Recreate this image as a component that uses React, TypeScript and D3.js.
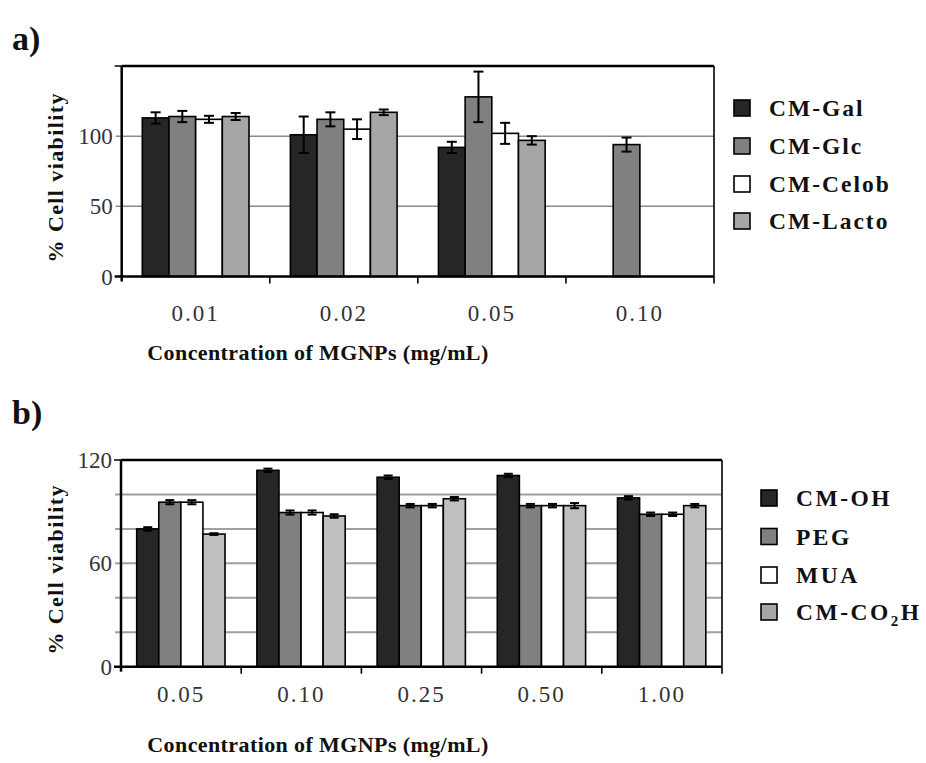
import React from "react";
import * as d3 from "d3";

const catsA = ["0.01", "0.02", "0.05", "0.10"];
const seriesA = ["CM-Gal", "CM-Glc", "CM-Celob", "CM-Lacto"];
const galA = [113, 101, 92, null];
const glcA = [114, 112, 128, 94];
const celobA = [112, 105, 102, null];
const lactoA = [114, 117, 97, null];
const galErrA = [4, 13, 4, null];
const glcErrA = [4, 5, 18, 5];
const celobErrA = [2.5, 7, 7.5, null];
const lactoErrA = [2.5, 2, 3, null];
const yTicksA = [0, 50, 100];
const yGridA = [50, 100];

const catsB = ["0.05", "0.10", "0.25", "0.50", "1.00"];
const seriesB = ["CM-OH", "PEG", "MUA", "CM-CO2H"];
const ohB = [80, 114, 110, 111, 98];
const pegB = [95.5, 89.5, 93.5, 93.5, 88.5];
const muaB = [95.5, 89.5, 93.5, 93.5, 88.5];
const co2hB = [77, 87.5, 97.5, 93.5, 93.5];
const ohErrB = [1, 1, 1, 1, 1];
const pegErrB = [1.2, 1.2, 1, 1, 1];
const muaErrB = [1.2, 1.2, 1, 1, 1];
const co2hErrB = [0.5, 1, 1, 1.5, 1];
const yTicksB = [0, 60, 120];
const yGridB = [20, 40, 60, 80, 100];

const colorsA = ["#262626", "#808080", "#ffffff", "#a6a6a6"];
const colorsB = ["#262626", "#808080", "#ffffff", "#c0c0c0"];
const legendColorsB = ["#262626", "#808080", "#ffffff", "#a6a6a6"];

const SERIF = "'Liberation Serif', 'DejaVu Serif', serif";

type PanelProps = {
  cats: string[];
  values: (number | null)[][];
  errors: (number | null)[][];
  colors: string[];
  legendColors: string[];
  series: string[];
  yMax: number;
  yTicks: number[];
  yGrid: number[];
  left: number;
  right: number;
  top: number;
  bottom: number;
  innerStart: number;
  innerEnd: number;
  capW: number;
  label: string;
  labelY: number;
  xLabelY: number;
  xTitleY: number;
  legendX: number;
  legendYs: number[];
  legendSpacing: number;
  gridColor: string;
  gridW: number;
};

function Panel(p: PanelProps) {
  const x0 = d3.scaleBand<string>().domain(p.cats).range([p.left, p.right]).padding(0);
  const x1 = d3
    .scaleBand<string>()
    .domain(p.series)
    .range([p.innerStart, p.innerEnd])
    .padding(0);
  const y = d3.scaleLinear().domain([0, p.yMax]).range([p.bottom, p.top]);
  const bw = x1.bandwidth();
  const boundaries = p.cats.map((c) => x0(c)!).concat([p.right]);

  return (
    <g>
      <text x={12} y={p.labelY} fontFamily={SERIF} fontWeight="bold" fontSize={34} fill="#111">
        {p.label}
      </text>
      {/* grid */}
      {p.yGrid.map((v) => (
        <line
          key={"g" + v}
          x1={p.left - 6}
          x2={p.right}
          y1={y(v)}
          y2={y(v)}
          stroke={p.gridColor}
          strokeWidth={p.gridW}
        />
      ))}
      {/* bars */}
      {p.cats.map((c, ci) =>
        p.series.map((s, si) => {
          const v = p.values[si][ci];
          if (v == null) return null;
          return (
            <rect
              key={c + s}
              x={x0(c)! + x1(s)!}
              y={y(v)}
              width={bw}
              height={y(0) - y(v)}
              fill={p.colors[si]}
              stroke="#000"
              strokeWidth={1.6}
            />
          );
        })
      )}
      {/* error bars */}
      {p.cats.map((c, ci) =>
        p.series.map((s, si) => {
          const v = p.values[si][ci];
          const e = p.errors[si][ci];
          if (v == null || e == null) return null;
          const cx = x0(c)! + x1(s)! + bw / 2;
          return (
            <g key={"e" + c + s} stroke="#000" strokeWidth={2}>
              <line x1={cx} x2={cx} y1={y(v + e)} y2={y(v - e)} />
              <line x1={cx - p.capW / 2} x2={cx + p.capW / 2} y1={y(v + e)} y2={y(v + e)} />
              <line x1={cx - p.capW / 2} x2={cx + p.capW / 2} y1={y(v - e)} y2={y(v - e)} />
            </g>
          );
        })
      )}
      {/* frame */}
      <line x1={p.left} x2={p.right} y1={p.top} y2={p.top} stroke="#000" strokeWidth={2.5} />
      <line x1={p.right} x2={p.right} y1={p.top} y2={p.bottom + 7} stroke="#000" strokeWidth={1.6} />
      <line x1={p.left} x2={p.left} y1={p.top} y2={p.bottom + 5} stroke="#000" strokeWidth={2.5} />
      <line x1={p.left - 7} x2={p.right} y1={p.bottom} y2={p.bottom} stroke="#000" strokeWidth={2.5} />
      <line x1={p.left - 7} x2={p.left} y1={p.top} y2={p.top} stroke="#000" strokeWidth={1.5} />
      {boundaries.slice(1, -1).map((bx, i) => (
        <line key={"t" + i} x1={bx} x2={bx} y1={p.bottom} y2={p.bottom + 7} stroke="#000" strokeWidth={1.6} />
      ))}
      {/* y tick labels */}
      {p.yTicks.map((v) => (
        <text
          key={"yl" + v}
          x={p.left - 9}
          y={y(v)}
          dy="0.35em"
          textAnchor="end"
          fontFamily={SERIF}
          fontSize={23}
          fill="#333"
        >
          {v}
        </text>
      ))}
      {/* x tick labels */}
      {p.cats.map((c) => (
        <text
          key={"xl" + c}
          x={x0(c)! + x0.bandwidth() / 2}
          y={p.xLabelY}
          textAnchor="middle"
          fontFamily={SERIF}
          fontSize={23}
          letterSpacing={2}
          fill="#333"
        >
          {c}
        </text>
      ))}
      <text
        x={318}
        y={p.xTitleY}
        textAnchor="middle"
        fontFamily={SERIF}
        fontWeight="bold"
        fontSize={22}
        letterSpacing={0.4}
        fill="#111"
      >
        Concentration of MGNPs (mg/mL)
      </text>
      <text
        transform={`translate(63,${(p.top + p.bottom) / 2 + 6}) rotate(-90)`}
        textAnchor="middle"
        fontFamily={SERIF}
        fontWeight="bold"
        fontSize={22}
        letterSpacing={1.4}
        fill="#111"
      >
        % Cell viability
      </text>
      {/* legend */}
      {p.series.map((s, i) => (
        <g key={"lg" + s}>
          <rect
            x={p.legendX}
            y={p.legendYs[i] - 8}
            width={16}
            height={16}
            fill={p.legendColors[i]}
            stroke="#000"
            strokeWidth={1.6}
          />
          <text
            x={p.legendX + 35}
            y={p.legendYs[i]}
            dy="0.35em"
            fontFamily={SERIF}
            fontWeight="bold"
            fontSize={23.5}
            letterSpacing={p.legendSpacing}
            fill="#111"
          >
            {s === "CM-CO2H" ? (
              <>
                CM-CO
                <tspan fontSize={15} dy={6}>
                  2
                </tspan>
                <tspan dy={-6}>H</tspan>
              </>
            ) : (
              s
            )}
          </text>
        </g>
      ))}
    </g>
  );
}

export default function App() {
  return (
    <svg
      width={926}
      height={763}
      style={{ display: "block", background: "#fff", position: "absolute", left: 0, top: 0 }}
    >
      <Panel
        cats={catsA}
        values={[galA, glcA, celobA, lactoA]}
        errors={[galErrA, glcErrA, celobErrA, lactoErrA]}
        colors={colorsA}
        legendColors={colorsA}
        series={seriesA}
        yMax={150}
        yTicks={yTicksA}
        yGrid={yGridA}
        left={121.7}
        right={714}
        top={66}
        bottom={276.5}
        innerStart={20.6}
        innerEnd={127.3}
        capW={10}
        label="a)"
        labelY={50}
        xLabelY={321}
        xTitleY={360}
        legendX={734}
        legendYs={[108, 146, 184, 221]}
        legendSpacing={2}
        gridColor="#8a8a8a"
        gridW={1.5}
      />
      <Panel
        cats={catsB}
        values={[ohB, pegB, muaB, co2hB]}
        errors={[ohErrB, pegErrB, muaErrB, co2hErrB]}
        colors={colorsB}
        legendColors={legendColorsB}
        series={seriesB}
        yMax={120}
        yTicks={yTicksB}
        yGrid={yGridB}
        left={121}
        right={722}
        top={460}
        bottom={666.7}
        innerStart={15.7}
        innerEnd={104}
        capW={9}
        label="b)"
        labelY={424}
        xLabelY={702}
        xTitleY={752}
        legendX={761}
        legendYs={[498, 536.5, 575, 612]}
        legendSpacing={2.5}
        gridColor="#a0a0a0"
        gridW={2}
      />
    </svg>
  );
}
